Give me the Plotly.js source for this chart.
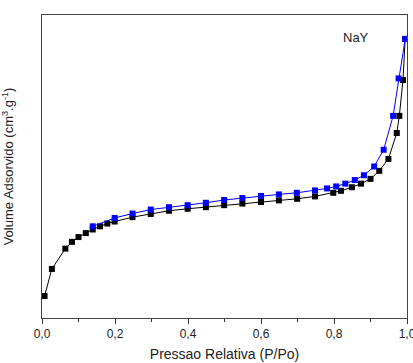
<!DOCTYPE html>
<html>
<head>
<meta charset="utf-8">
<script src="https://cdn.plot.ly/plotly-3.0.1.min.js"></script>
<style>html,body{margin:0;padding:0;background:#fff;}#chart{width:413px;height:363px;}</style>
</head>
<body>
<div id="chart"></div>
<script>
// Adsorption branch (black)
const adsP = [0.007, 0.027, 0.064, 0.082, 0.100, 0.120, 0.139, 0.159, 0.179, 0.199, 0.248, 0.298, 0.348, 0.399, 0.449, 0.499, 0.549, 0.600, 0.649, 0.699, 0.748, 0.798, 0.819, 0.849, 0.874, 0.900, 0.924, 0.949, 0.972, 0.979, 0.989, 0.995];
const adsV = [55, 123, 174, 191, 203, 213, 222, 230, 237, 242, 253, 261, 269, 274, 278, 283, 287, 291, 295, 299, 305, 314, 319, 328, 337, 349, 369, 399, 464, 507, 597, 700];
// Desorption branch (blue)
const desP = [0.995, 0.977, 0.962, 0.936, 0.910, 0.882, 0.857, 0.831, 0.806, 0.781, 0.748, 0.698, 0.649, 0.600, 0.549, 0.499, 0.449, 0.399, 0.348, 0.298, 0.248, 0.199, 0.139];
const desV = [700, 601, 507, 422, 380, 358, 346, 337, 330, 325, 320, 314, 310, 306, 301, 296, 289, 283, 278, 272, 262, 251, 230];
// Tick labels
const xTickVals = [0, 0.2, 0.4, 0.6, 0.8, 1.0];
const xTickText = ['0,0', '0,2', '0,4', '0,6', '0,8', '1,0'];
const sampleName = 'NaY';

const font = 'Liberation Sans, Arial, sans-serif';

const traces = [
  {x: adsP, y: adsV, type: 'scatter', mode: 'lines+markers', name: 'Adsorção',
   line: {color: '#000000', width: 1},
   marker: {symbol: 'square', size: 6, color: '#000000'}},
  {x: desP, y: desV, type: 'scatter', mode: 'lines+markers', name: 'Dessorção',
   line: {color: '#0000ff', width: 1},
   marker: {symbol: 'square', size: 6, color: '#0000ff'}}
];

const layout = {
  width: 413, height: 363,
  margin: {l: 42, r: 6, t: 15, b: 45},
  paper_bgcolor: '#ffffff', plot_bgcolor: '#ffffff',
  showlegend: false,
  font: {family: font, color: '#222'},
  xaxis: {
    range: [0, 1.0],
    tickmode: 'array', tickvals: xTickVals, ticktext: xTickText,
    ticklabeloverflow: 'allow',
    ticks: 'outside', ticklen: 5, tickwidth: 1, tickcolor: '#333',
    minor: {dtick: 0.1, ticks: 'outside', ticklen: 3, tickcolor: '#333'},
    showline: true, linecolor: '#444', linewidth: 1, mirror: true,
    showgrid: false, zeroline: false,
    tickfont: {family: font, size: 12, color: '#222'},
    title: {text: 'Pressao Relativa (P/Po)', font: {family: font, size: 14, color: '#222'}, standoff: 8}
  },
  yaxis: {
    range: [0, 760],
    showticklabels: false, ticks: '',
    showline: true, linecolor: '#444', linewidth: 1, mirror: true,
    showgrid: false, zeroline: false,
    title: {text: 'Volume Adsorvido (cm<sup>3</sup>.g<sup>-1</sup>)', font: {family: font, size: 13, color: '#222'}}
  },
  annotations: [
    {text: sampleName, xref: 'paper', yref: 'paper', x: 0.86, y: 0.927,
     xanchor: 'center', yanchor: 'middle', showarrow: false,
     font: {family: font, size: 13, color: '#222'}}
  ]
};

Plotly.newPlot('chart', traces, layout, {displayModeBar: false, staticPlot: true});
</script>
</body>
</html>
